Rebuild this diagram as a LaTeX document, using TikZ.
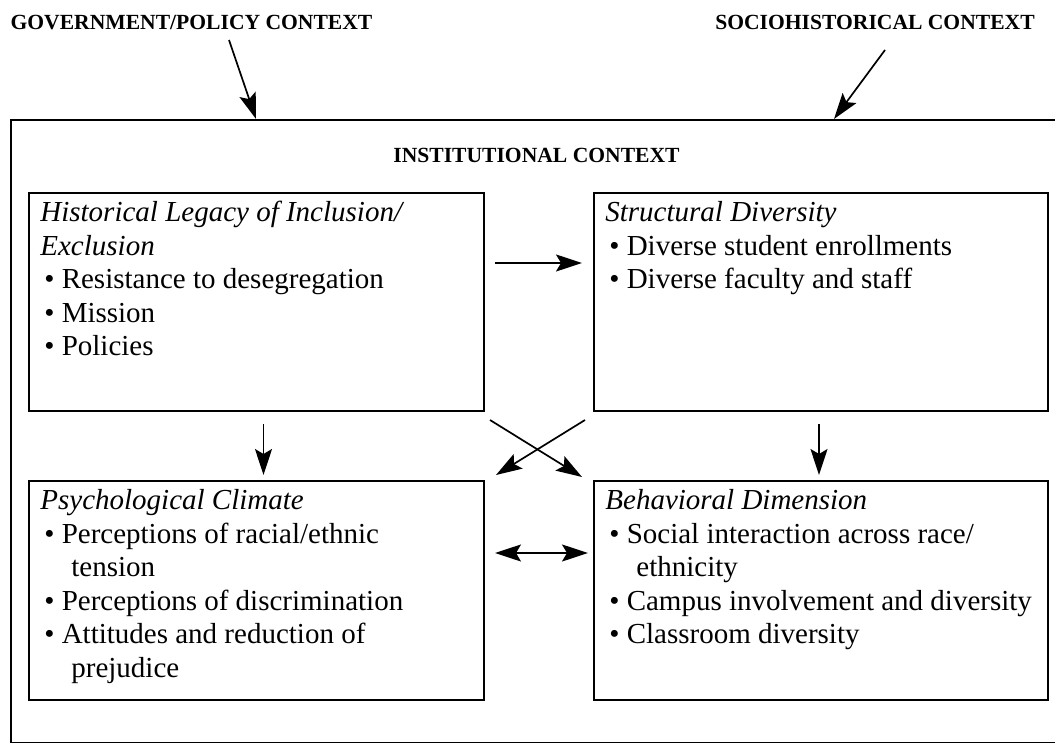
\documentclass[tikz,border=0pt]{standalone}
\usepackage{fontspec}
\setmainfont{Liberation Serif}
\usetikzlibrary{arrows.meta}
\newcommand{\itm}{\hspace*{2pt}\textbullet\ }
\newcommand{\cnt}{\hspace*{15.5pt}}
\begin{document}
\begin{tikzpicture}[x=0.5pt,y=-0.5pt,
  box/.style={draw, line width=1pt, inner sep=0pt, anchor=north west},
  body/.style={anchor=north west, align=left, inner sep=0pt, font=\fontsize{14.5}{16.75}\selectfont},
  hdr/.style={anchor=base, inner sep=0pt, font=\bfseries\fontsize{10.8}{12}\selectfont},
  tip/.tip={Stealth[length=13pt,width=8.5pt,inset=2.5pt]},
  arr/.style={line width=0.85pt, -tip},
  darr/.style={line width=0.85pt, tip-tip}
]
\useasboundingbox (0,0) rectangle (1055,743);

% headers
\node[hdr] (gov) at (191.5,29.5) {GOVERNMENT/POLICY CONTEXT};
\node[hdr] (soc) at (875,29.5) {SOCIOHISTORICAL CONTEXT};

% outer institutional box (its right side lies beyond the picture)
\node[box, minimum width=540pt, minimum height=311.5pt] (inst) at (10,119) {};
\node[hdr] (insttitle) at (536.5,162.5) {INSTITUTIONAL CONTEXT};

% four boxes
\node[box, minimum width=227.5pt, minimum height=109pt] (hl) at (28,192) {};
\node[box, minimum width=227pt, minimum height=109pt] (sd) at (593,192) {};
\node[box, minimum width=227.5pt, minimum height=109.5pt] (pc) at (28,480) {};
\node[box, minimum width=227pt, minimum height=109.5pt] (bd) at (593,480) {};

% box texts
\node[body] (hltext) at ([shift={(12,9)}]hl.north west) {%
  \textit{Historical Legacy of Inclusion/}\\
  \textit{Exclusion}\\
  \itm Resistance to desegregation\\
  \itm Mission\\
  \itm Policies};
\node[body] (sdtext) at ([shift={(12,9)}]sd.north west) {%
  \textit{Structural Diversity}\\
  \itm Diverse student enrollments\\
  \itm Diverse faculty and staff};
\node[body] (pctext) at ([shift={(12,9)}]pc.north west) {%
  \textit{Psychological Climate}\\
  \itm Perceptions of racial/ethnic\\
  \cnt tension\\
  \itm Perceptions of discrimination\\
  \itm Attitudes and reduction of\\
  \cnt prejudice};
\node[body] (bdtext) at ([shift={(12,9)}]bd.north west) {%
  \textit{Behavioral Dimension}\\
  \itm Social interaction across race/\\
  \cnt ethnicity\\
  \itm Campus involvement and diversity\\
  \itm Classroom diversity};

% context arrows
\coordinate (govtail) at (229,40);
\coordinate (soctail) at (885,50);
\draw[arr] (govtail) -- ([shift={(246,0)}]inst.north west);
\draw[arr] (soctail) -- ([shift={(824,0)}]inst.north west);

% internal arrows
\draw[arr] ([shift={(10,71)}]hl.north east) -- ([shift={(-11,71)}]sd.north west);
\draw[arr] ([shift={(7,12)}]hl.south) -- ([shift={(7,-5)}]pc.north);
\draw[arr] ([shift={(-2,12)}]sd.south) -- ([shift={(-2,-5)}]bd.north);
\draw[arr] ([shift={(5,8)}]hl.south east) -- ([shift={(-11,-3)}]bd.north west);
\draw[arr] ([shift={(-8,8)}]sd.south west) -- ([shift={(11,-5)}]pc.north east);
\draw[darr] ([shift={(10,73)}]pc.north east) -- ([shift={(-5,73)}]bd.north west);
\end{tikzpicture}
\end{document}
